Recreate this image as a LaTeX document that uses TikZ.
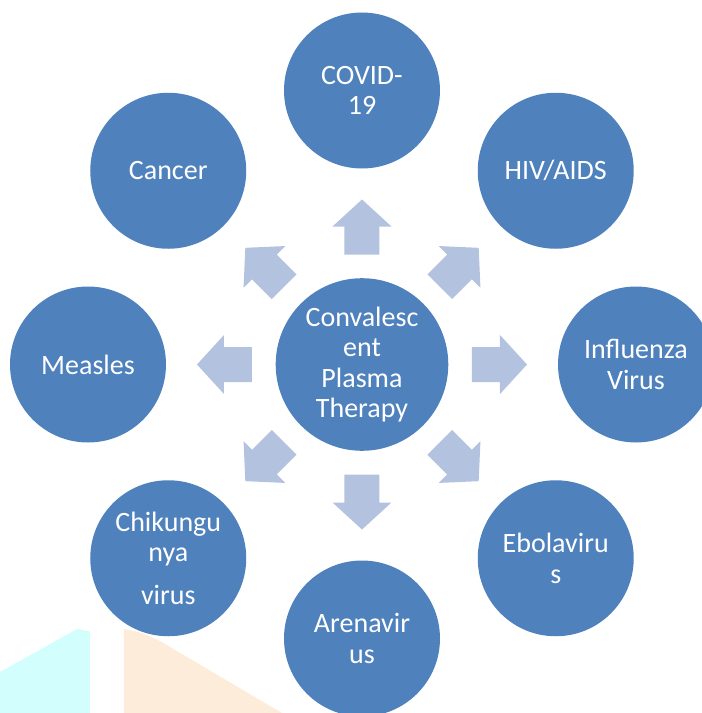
\documentclass[tikz,border=0pt]{standalone}
\usepackage{fontspec}
\setmainfont{Carlito}
\definecolor{circblue}{RGB}{79,129,189}
\definecolor{arrowblue}{RGB}{179,194,222}
\definecolor{bgcyan}{RGB}{210,254,254}
\definecolor{bgpeach}{RGB}{254,236,218}
\begin{document}
\begin{tikzpicture}[x=1pt,y=1pt,line join=round,
	disc/.style={circle,fill=circblue,text=white,align=center,inner sep=0pt,
		minimum size=156pt,font=\fontsize{28}{30.5}\selectfont}]
	\clip (-362,-348.5) rectangle (340,364.5);
	% faint shapes at the bottom left
	\fill[bgcyan] (-362,-307.5)--(-285,-264.5)--(-272,-267)--(-272,-348.5)--(-362,-348.5)--cycle;
	\fill[bgpeach] (-238,-264.5) .. controls (-220,-268) .. (-202,-276.5)--(-80,-348.5)--(-238,-348.5)--cycle;
	\node[disc,minimum size=172.6pt] (cpt) at (0,0) {Convalesc\\ent\\Plasma\\Therapy};
	\node[disc] (covid) at (90:274) {COVID-\\19};
	\node[disc] (hiv) at (45:274) {HIV/AIDS};
	\node[disc] (flu) at (0:274) {Influenza\\Virus};
	\node[disc] (ebola) at (-45:274) {Ebolaviru\\s};
	\node[disc] (arena) at (-90:274) {Arenavir\\us};
	\node[disc] (chik) at (-135:274) {Chikungu\\nya\\[12pt]virus};
	\node[disc] (measles) at (180:274) {Measles};
	\node[disc] (cancer) at (135:274) {Cancer};
	% block arrows
	\foreach \a in
	{90,45,0,-45,-90,-135,180,135}
	\fill[arrowblue,shift={(cpt.center)},rotate=\a]
		(110,-17.5)--(138,-17.5)--(138,-29.5)--(165,0)--(138,29.5)--(138,17.5)--(110,17.5)--cycle;
\end{tikzpicture}
\end{document}
